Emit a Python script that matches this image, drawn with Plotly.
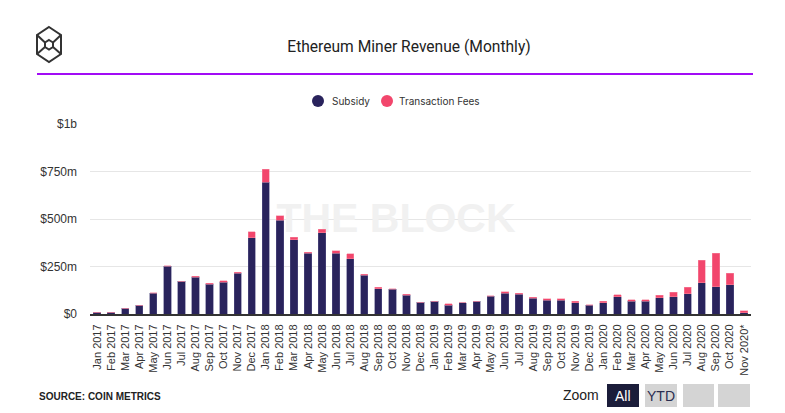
import plotly.graph_objects as go

months = ["Jan 2017", "Feb 2017", "Mar 2017", "Apr 2017", "May 2017", "Jun 2017",
          "Jul 2017", "Aug 2017", "Sep 2017", "Oct 2017", "Nov 2017", "Dec 2017",
          "Jan 2018", "Feb 2018", "Mar 2018", "Apr 2018", "May 2018", "Jun 2018",
          "Jul 2018", "Aug 2018", "Sep 2018", "Oct 2018", "Nov 2018", "Dec 2018",
          "Jan 2019", "Feb 2019", "Mar 2019", "Apr 2019", "May 2019", "Jun 2019",
          "Jul 2019", "Aug 2019", "Sep 2019", "Oct 2019", "Nov 2019", "Dec 2019",
          "Jan 2020", "Feb 2020", "Mar 2020", "Apr 2020", "May 2020", "Jun 2020",
          "Jul 2020", "Aug 2020", "Sep 2020", "Oct 2020", "Nov 2020*"]

# USD millions
subsidy = [10, 10, 30, 46, 110, 252, 172, 193, 156, 167, 214, 402,
           693, 493, 391, 319, 428, 319, 291, 204, 133, 130, 98, 62,
           67, 46, 58, 67, 93, 109, 104, 82, 72, 72, 60, 46,
           60, 91, 67, 67, 86, 91, 107, 165, 144, 154, 7]
fees = [0, 0, 0, 0, 1, 1, 1, 7, 7, 7, 7, 30,
        68, 23, 14, 7, 19, 13, 25, 6, 7, 2, 7, 1,
        1, 7, 1, 1, 2, 7, 6, 7, 7, 7, 8, 2,
        8, 11, 7, 7, 14, 23, 33, 117, 175, 60, 9]

y_tickvals = [0, 250, 500, 750, 1000]
y_ticktext = ["$0", "$250m", "$500m", "$750m", "$1b"]

series_names = ["Subsidy", "Transaction Fees"]
NAVY = "#29235c"
PINK = "#f2466c"

# page geometry (pixels); the html body adds an 8px margin
OFF = 8
PAGE_W, PAGE_H = 785, 413
W, H = PAGE_W - OFF, PAGE_H - OFF
# plot area in page pixels
PL, PR, PT, PB = 90, 751, 124, 314
L, R, T, B = PL - OFF, W - (PR - OFF), PT - OFF, H - (PB - OFF)
PW, PH = PR - PL, PB - PT


def px(x):
    return (x - PL) / PW


def py(y):
    return (PB - y) / PH


fig = go.Figure()
# watermark on an underlying (hidden) subplot so that the bars sit on top of it
fig.add_trace(go.Scatter(x=[px(396)], y=[py(222)], xaxis="x2", yaxis="y2",
                         mode="text", text=["<b>THE BLOCK</b>"], hoverinfo="skip",
                         textfont=dict(family="Liberation Sans, Arial", size=41, color="#f1f1f1"),
                         showlegend=False))
fig.add_trace(go.Bar(x=months, y=subsidy, name=series_names[0], marker_color=NAVY,
                     marker_line=dict(color="#5a5688", width=0.5),
                     showlegend=False))
fig.add_trace(go.Bar(x=months, y=fees, name=series_names[1], marker_color=PINK,
                     marker_line=dict(color="#f58aa2", width=0.5),
                     showlegend=False))

shapes = []
annotations = []
# purple rule under title
shapes.append(dict(type="line", xref="paper", yref="paper",
                   x0=px(37), x1=px(753), y0=py(74), y1=py(74),
                   line=dict(color="#a20cf5", width=2)))

# legend: round markers + labels
for (cx, tx), name, col in zip([(318, 330), (387, 397)], series_names, [NAVY, PINK]):
    shapes.append(dict(type="circle", xref="paper", yref="paper",
                       x0=px(cx - 6), x1=px(cx + 6), y0=py(107), y1=py(95),
                       fillcolor=col, line=dict(width=0)))
    annotations.append(dict(xref="paper", yref="paper", x=px(tx), y=py(101), text=name,
                            showarrow=False, xanchor="left", yanchor="middle",
                            font=dict(family="Inter, Roboto, sans-serif", size=10, color="#333333")))


def path(points, close=True):
    s = "M " + " L ".join(f"{px(a):.5f},{py(b):.5f}" for a, b in points)
    return s + (" Z" if close else "")


# logo: hexagon cube
outer = [(49, 27), (61, 35), (61, 54), (49, 62), (37, 54), (37, 35)]
inner = [(49, 40), (53, 42.5), (53, 47), (49, 49.5), (45, 47), (45, 42.5)]
logo_line = dict(color="#333333", width=2)
shapes.append(dict(type="path", xref="paper", yref="paper", path=path(outer), line=logo_line))
shapes.append(dict(type="path", xref="paper", yref="paper", path=path(inner), line=logo_line))
for o, i in [((37, 35), (45, 42.5)), ((61, 35), (53, 42.5)),
             ((37, 54), (45, 47)), ((61, 54), (53, 47))]:
    shapes.append(dict(type="path", xref="paper", yref="paper",
                       path=path([o, i], close=False), line=logo_line))

# zoom buttons
buttons = [(607, 639, "#1b1d3a", "All", "white"), (645, 677, "#d4d4d4", "YTD", "#2a2d50"),
           (683, 714, "#d4d4d4", "", ""), (718, 750, "#d4d4d4", "", "")]
for x0, x1, col, txt, tcol in buttons:
    shapes.append(dict(type="rect", xref="paper", yref="paper",
                       x0=px(x0), x1=px(x1), y0=py(407), y1=py(384),
                       fillcolor=col, line=dict(width=0), layer="above"))
    if txt:
        annotations.append(dict(xref="paper", yref="paper", x=px((x0 + x1) / 2), y=py(396),
                                text=txt, showarrow=False, xanchor="center", yanchor="middle",
                                font=dict(family="Liberation Sans, Arial", size=14, color=tcol)))

annotations.append(dict(xref="paper", yref="paper", x=px(601), y=py(395), text="Zoom",
                        showarrow=False, xanchor="right", yanchor="middle",
                        font=dict(family="Liberation Sans, Arial", size=14, color="#222222")))
annotations.append(dict(xref="paper", yref="paper", x=px(37), y=py(396),
                        text="<b>SOURCE: COIN METRICS</b>", showarrow=False,
                        xanchor="left", yanchor="middle",
                        font=dict(family="Liberation Sans, Arial", size=10, color="#222222")))

fig.update_layout(
    width=W, height=H,
    margin=dict(l=L, r=R, t=T, b=B),
    paper_bgcolor="white", plot_bgcolor="white",
    barmode="stack", bargap=0.48,
    showlegend=False,
    title=dict(text="Ethereum Miner Revenue (Monthly)", xref="container",
               x=(409 - OFF) / W, xanchor="center",
               y=1 - (47 - OFF) / H, yanchor="middle",
               font=dict(family="Roboto, sans-serif", size=15.6, color="#222222")),
    shapes=shapes,
    annotations=annotations,
    xaxis2=dict(range=[0, 1], visible=False, showgrid=False, zeroline=False, fixedrange=True),
    yaxis2=dict(range=[0, 1], visible=False, showgrid=False, zeroline=False, fixedrange=True),
    xaxis=dict(type="category", tickangle=-90, showgrid=False, overlaying="x2",
               showline=True, linecolor="#333333", linewidth=2,
               ticks="", ticklabelstandoff=4,
               tickfont=dict(family="Liberation Sans, Arial", size=11, color="#333333")),
    yaxis=dict(range=[0, 1000], tickvals=y_tickvals, ticktext=y_ticktext, overlaying="y2",
               showgrid=True, gridcolor="#e6e6e6", gridwidth=1, zeroline=False,
               ticks="", ticklabelstandoff=12,
               tickfont=dict(family="Liberation Sans, Arial", size=12, color="#333333")),
)

fig.write_html("out.html")
